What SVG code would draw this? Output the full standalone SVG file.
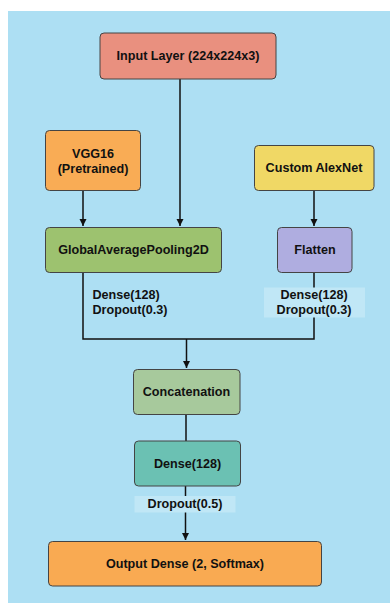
<svg xmlns="http://www.w3.org/2000/svg" width="390" height="603" viewBox="0 0 390 603">
<defs>
<marker id="arr" markerWidth="8" markerHeight="8" refX="7" refY="4" orient="auto" markerUnits="userSpaceOnUse">
<path d="M0,0.5 L7,4 L0,7.5 z" fill="#111"/>
</marker>
<style>
.n{stroke:#444;stroke-width:1}
.t{font-family:"Liberation Sans",Arial,sans-serif;font-size:12.6px;font-weight:bold;fill:#111;text-anchor:middle;dominant-baseline:central}
.l{font-family:"Liberation Sans",Arial,sans-serif;font-size:12.6px;font-weight:bold;fill:#111;dominant-baseline:central}
.c{fill:none;stroke:#111;stroke-width:1.5}
.lb{fill:#C0E7F6}
</style>
</defs>
<rect x="0" y="0" width="390" height="603" fill="#ffffff"/>
<rect x="8" y="11" width="382" height="592" fill="#ADDFF3"/>
<g id="connectors">
<path class="c" d="M180,79 V226" marker-end="url(#arr)"/>
<path class="c" d="M83,190.5 V226" marker-end="url(#arr)"/>
<path class="c" d="M314,190.5 V226" marker-end="url(#arr)"/>
<path class="c" d="M83,272.5 V339 H314 V272.5"/>
<path class="c" d="M186.5,339 V368" marker-end="url(#arr)"/>
<path class="c" d="M186,414.5 V441"/>
<path class="c" d="M185.5,486 V540" marker-end="url(#arr)"/>
<rect class="lb" x="264" y="287.5" width="101" height="30"/>
<text class="l" x="92.5" y="295">Dense(128)</text>
<text class="l" x="92.5" y="310">Dropout(0.3)</text>
<text class="t" x="314" y="295">Dense(128)</text>
<text class="t" x="314" y="310">Dropout(0.3)</text>
<rect class="lb" x="134.5" y="496" width="101" height="16.5"/>
<text class="t" x="185" y="504">Dropout(0.5)</text>
</g>
<g id="input"><rect class="n" x="100" y="33" width="176" height="46" rx="4" fill="#E9907F"/><text class="t" x="188" y="56">Input Layer (224x224x3)</text></g>
<g id="vgg16"><rect class="n" x="45.5" y="130.5" width="95" height="60" rx="4" fill="#F9AC55"/><text class="t" x="93" y="153.5">VGG16</text><text class="t" x="93" y="168.5">(Pretrained)</text></g>
<g id="alexnet"><rect class="n" x="254.5" y="145.5" width="119.5" height="45" rx="4" fill="#F0D865"/><text class="t" x="314" y="168">Custom AlexNet</text></g>
<g id="gap"><rect class="n" x="45.5" y="227.5" width="176" height="45" rx="4" fill="#9DC26F"/><text class="t" x="133.5" y="250">GlobalAveragePooling2D</text></g>
<g id="flatten"><rect class="n" x="277.5" y="227.5" width="74.5" height="45" rx="4" fill="#AFADE0"/><text class="t" x="315" y="250">Flatten</text></g>
<g id="concat"><rect class="n" x="133.5" y="369.5" width="106.5" height="45" rx="4" fill="#A7C99C"/><text class="t" x="186.5" y="392">Concatenation</text></g>
<g id="dense"><rect class="n" x="134.5" y="441" width="106" height="45" rx="4" fill="#67BFAF" fill-opacity="0.95"/><text class="t" x="187.5" y="464">Dense(128)</text></g>
<g id="output"><rect class="n" x="48.5" y="541.5" width="273" height="44.5" rx="4" fill="#F9AA52"/><text class="t" x="185" y="563.5">Output Dense (2, Softmax)</text></g>
</svg>
